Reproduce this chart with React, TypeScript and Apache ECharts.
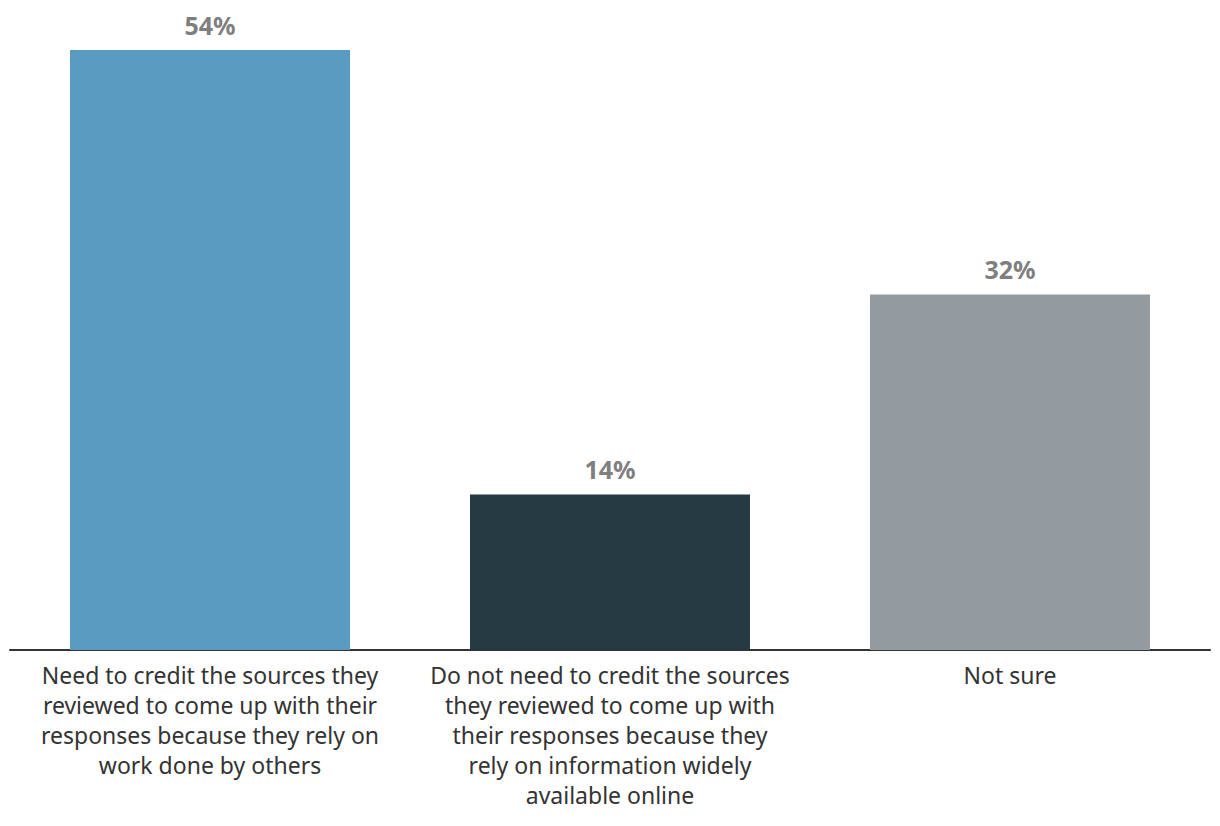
import React, { useEffect, useRef } from "react";
import * as echarts from "echarts";

const categories = [
  "Need to credit the sources they\nreviewed to come up with their\nresponses because they rely on\nwork done by others",
  "Do not need to credit the sources\nthey reviewed to come up with\ntheir responses because they\nrely on information widely\navailable online",
  "Not sure",
];
const values = [54, 14, 32];
const colors = ["#5a9bc2", "#263a43", "#939ba1"];

export default function App() {
  const ref = useRef<HTMLDivElement>(null);
  useEffect(() => {
    if (!ref.current) return;
    const chart = echarts.init(ref.current, null, { renderer: "svg" });
    chart.setOption({
      animation: false,
      grid: { left: 10, right: 10, top: 50, bottom: 176, containLabel: false },
      xAxis: {
        type: "category",
        data: categories,
        axisLine: { show: true, lineStyle: { color: "#333333", width: 2 } },
        axisTick: { show: false },
        axisLabel: {
          interval: 0,
          color: "#333333",
          fontSize: 23,
          lineHeight: 30,
          fontFamily: "'Noto Sans', sans-serif",
          margin: 10,
          align: "center",
        },
      },
      yAxis: {
        type: "value",
        min: 0,
        max: 54,
        show: false,
        splitLine: { show: false },
      },
      series: [
        {
          type: "bar",
          barWidth: 280,
          data: values.map((v, i) => ({ value: v, itemStyle: { color: colors[i] } })),
          label: {
            show: true,
            position: "top",
            distance: 13,
            formatter: "{c}%",
            color: "#7f7f7f",
            fontSize: 25,
            fontWeight: "bold",
            fontFamily: "'Noto Sans', sans-serif",
          },
        },
      ],
    });
    return () => chart.dispose();
  }, []);
  return (
    <div
      ref={ref}
      style={{ position: "fixed", left: 0, top: 0, width: 1220, height: 826, background: "#ffffff" }}
    />
  );
}
